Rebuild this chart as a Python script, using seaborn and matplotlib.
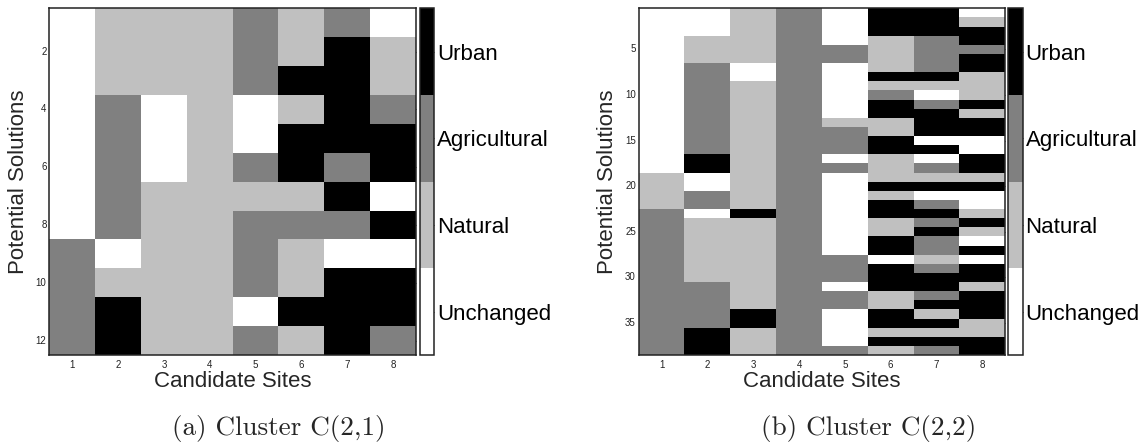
import numpy as np
import pandas as pd
import matplotlib
matplotlib.use("Agg")
import matplotlib.pyplot as plt
from matplotlib.colors import ListedColormap
import seaborn as sns

# Land-use classes, coded 0..3
land_uses = ["Unchanged", "Natural", "Agricultural", "Urban"]
land_colors = ["#ffffff", "#c0c0c0", "#808080", "#000000"]
sites = [1, 2, 3, 4, 5, 6, 7, 8]

# Cluster C(2,1): 12 potential solutions, one list per candidate site
c21_site1 = [0, 0, 0, 0, 0, 0, 0, 0, 2, 2, 2, 2]
c21_site2 = [1, 1, 1, 2, 2, 2, 2, 2, 0, 1, 3, 3]
c21_site3 = [1, 1, 1, 0, 0, 0, 1, 1, 1, 1, 1, 1]
c21_site4 = [1, 1, 1, 1, 1, 1, 1, 1, 1, 1, 1, 1]
c21_site5 = [2, 2, 2, 0, 0, 2, 1, 2, 2, 2, 0, 2]
c21_site6 = [1, 1, 3, 1, 3, 3, 1, 2, 1, 1, 3, 1]
c21_site7 = [2, 3, 3, 3, 3, 2, 3, 2, 0, 3, 3, 3]
c21_site8 = [0, 1, 1, 2, 3, 3, 0, 3, 0, 3, 3, 2]

# Cluster C(2,2): 38 potential solutions, one list per candidate site
c22_site1 = [0, 0, 0, 0, 0, 0, 0, 0, 0, 0, 0, 0, 0, 0, 0, 0, 0, 0, 1, 1,
             1, 1, 2, 2, 2, 2, 2, 2, 2, 2, 2, 2, 2, 2, 2, 2, 2, 2]
c22_site2 = [0, 0, 0, 1, 1, 1, 2, 2, 2, 2, 2, 2, 2, 2, 2, 2, 3, 3, 0, 0,
             2, 2, 0, 1, 1, 1, 1, 1, 1, 1, 2, 2, 2, 2, 2, 3, 3, 3]
c22_site3 = [1, 1, 1, 1, 1, 1, 0, 0, 1, 1, 1, 1, 1, 1, 1, 1, 1, 1, 1, 1,
             1, 1, 3, 1, 1, 1, 1, 1, 1, 1, 1, 1, 1, 3, 3, 1, 1, 1]
c22_site4 = [2, 2, 2, 2, 2, 2, 2, 2, 2, 2, 2, 2, 2, 2, 2, 2, 2, 2, 2, 2,
             2, 2, 2, 2, 2, 2, 2, 2, 2, 2, 2, 2, 2, 2, 2, 2, 2, 2]
c22_site5 = [0, 0, 0, 0, 2, 2, 0, 0, 0, 0, 0, 0, 1, 2, 2, 2, 0, 2, 0, 0,
             0, 0, 0, 0, 0, 0, 0, 2, 2, 2, 0, 2, 2, 0, 0, 0, 0, 2]
c22_site6 = [3, 3, 3, 1, 1, 1, 1, 3, 1, 2, 3, 3, 1, 1, 3, 3, 1, 1, 1, 3,
             1, 3, 3, 1, 1, 3, 3, 0, 3, 3, 3, 1, 1, 3, 3, 1, 3, 1]
c22_site7 = [3, 3, 3, 2, 2, 2, 2, 3, 1, 0, 2, 3, 3, 3, 0, 3, 0, 2, 1, 3,
             0, 2, 3, 2, 3, 2, 2, 1, 2, 3, 3, 2, 3, 1, 3, 1, 3, 2]
c22_site8 = [0, 1, 3, 3, 2, 3, 3, 1, 1, 1, 3, 1, 3, 3, 0, 0, 3, 3, 1, 3,
             0, 0, 1, 3, 1, 0, 3, 0, 3, 3, 1, 3, 3, 3, 1, 1, 3, 3]

c21_ticks = [2, 4, 6, 8, 10, 12]
c22_ticks = [5, 10, 15, 20, 25, 30, 35]


def solutions_frame(columns):
    n = len(columns[0])
    return pd.DataFrame(np.column_stack(columns),
                        index=np.arange(1, n + 1), columns=sites)


c21 = solutions_frame([c21_site1, c21_site2, c21_site3, c21_site4,
                       c21_site5, c21_site6, c21_site7, c21_site8])
c22 = solutions_frame([c22_site1, c22_site2, c22_site3, c22_site4,
                       c22_site5, c22_site6, c22_site7, c22_site8])

sns.set_theme(style="white")
plt.rcParams["font.family"] = ["Liberation Sans", "DejaVu Sans"]

W, H = 1143, 443
fig = plt.figure(figsize=(W / 100, H / 100), dpi=100)

cmap = ListedColormap(land_colors)


def px_axes(x0, y0, x1, y1):
    return fig.add_axes([x0 / W, 1 - y1 / H, (x1 - x0) / W, (y1 - y0) / H])


panels = [
    (c21, c21_ticks, (49.3, 416.0), (419.6, 434.0), 279, "(a) Cluster C(2,1)"),
    (c22, c22_ticks, (638.6, 1005.3), (1008.3, 1022.7), 869, "(b) Cluster C(2,2)"),
]
top, bottom = 8.3, 355.0

for data, yticks, (ax0, ax1), (cb0, cb1), cap_x, caption in panels:
    ax = px_axes(ax0, top, ax1, bottom)
    cax = px_axes(cb0, top, cb1, bottom)
    sns.heatmap(data, ax=ax, cbar_ax=cax, cmap=cmap, vmin=-0.5, vmax=3.5,
                linewidths=0, square=False)

    ax.set_xticks(np.arange(len(sites)) + 0.5, labels=[str(s) for s in sites],
                  rotation=0)
    ax.set_yticks(np.array(yticks) - 0.5, labels=[str(t) for t in yticks],
                  rotation=0)
    ax.tick_params(direction="in", length=3, width=0.8, colors="#222222",
                   top=True, right=True, labelsize=7, labelcolor="#222222")
    ax.tick_params(axis="x", pad=3.5)
    ax.tick_params(axis="y", pad=2)
    for s in ax.spines.values():
        s.set_visible(True)
        s.set_color("#222222")
        s.set_linewidth(1.1)
    ax.set_xlabel("Candidate Sites", fontsize=16, labelpad=1)
    ax.set_ylabel("Potential Solutions", fontsize=16, labelpad=5)

    cb = ax.collections[0].colorbar
    cb.set_ticks([0, 1, 2, 3], labels=land_uses)
    cb.outline.set_visible(True)
    cb.outline.set_linewidth(1.1)
    cb.outline.set_edgecolor("#222222")
    cax.tick_params(direction="in", length=3, width=0.8, pad=2,
                    labelsize=16, colors="#222222", labelcolor="black")

    fig.text(cap_x / W, 1 - 428 / H, caption, ha="center", va="center",
             fontsize=19.5, family=["cmr10", "DejaVu Serif"])

fig.savefig("out.png", dpi=100)
